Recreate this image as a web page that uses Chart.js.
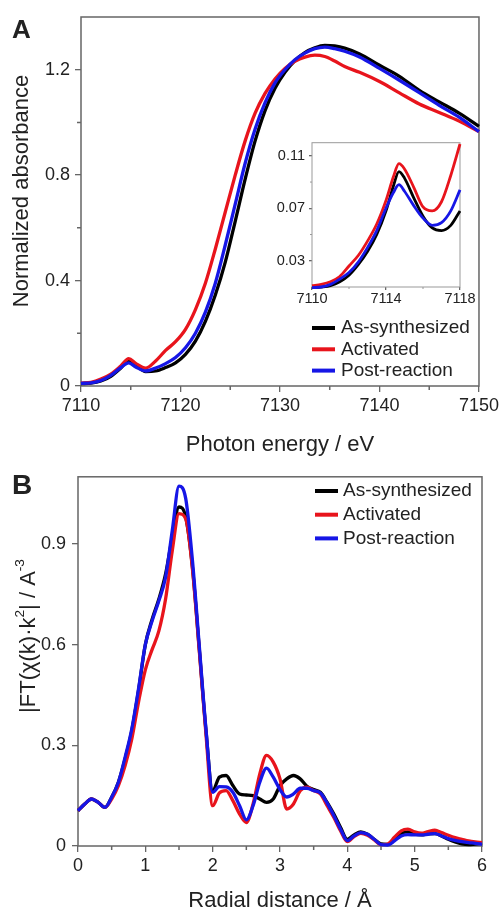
<!DOCTYPE html>
<html>
<head>
<meta charset="utf-8">
<script src="https://cdn.jsdelivr.net/npm/chart.js@4.4.0/dist/chart.umd.min.js"></script>
<style>
  html, body { margin: 0; padding: 0; background: #fff; }
  body { width: 502px; height: 911px; position: relative; overflow: hidden; font-family: "Liberation Sans", Arial, sans-serif; }
  canvas { position: absolute; }
  .panel { position: absolute; z-index: 5; font-weight: bold; color: #222; line-height: 1; }
</style>
</head>
<body>
<canvas id="chartA" width="502" height="460" style="left:0; top:0;"></canvas>
<canvas id="chartInset" width="222" height="185" style="left:255px; top:130px;"></canvas>
<canvas id="chartB" width="502" height="451" style="left:0; top:460px;"></canvas>
<div class="panel" style="left:12px; top:16px; font-size:26px;">A</div>
<div class="panel" style="left:12px; top:471px; font-size:28px;">B</div>
<script>
// ---- panel A : XANES ----
const energyA = [7110, 7111, 7112, 7113, 7114, 7114.8, 7115.5, 7116.5, 7117.5, 7118.5, 7119.5, 7120.5,
  7121.5, 7122.5, 7123.5, 7124.5, 7125.5, 7126.5, 7127.5, 7128.5, 7129.5, 7130.5, 7131.5, 7132.5,
  7133.5, 7134.5, 7135.5, 7136.5, 7138, 7140, 7142, 7144, 7146, 7148, 7150];
const absBlack = [0.009, 0.011, 0.019, 0.037, 0.068, 0.097, 0.078, 0.055, 0.057, 0.07, 0.088, 0.12,
  0.17, 0.245, 0.345, 0.47, 0.625, 0.785, 0.93, 1.045, 1.13, 1.19, 1.235, 1.265,
  1.283, 1.292, 1.29, 1.282, 1.26, 1.217, 1.175, 1.122, 1.078, 1.035, 0.985];
const absRed = [0.011, 0.014, 0.026, 0.045, 0.076, 0.104, 0.086, 0.068, 0.095, 0.135, 0.168, 0.215,
  0.29, 0.39, 0.52, 0.66, 0.8, 0.93, 1.035, 1.11, 1.165, 1.205, 1.232, 1.248,
  1.255, 1.25, 1.233, 1.212, 1.19, 1.155, 1.112, 1.07, 1.038, 1.005, 0.965];
const absBlue = [0.01, 0.012, 0.021, 0.04, 0.07, 0.088, 0.072, 0.057, 0.068, 0.085, 0.108, 0.145,
  0.2, 0.28, 0.39, 0.535, 0.69, 0.845, 0.975, 1.075, 1.15, 1.2, 1.238, 1.263,
  1.28, 1.286, 1.28, 1.27, 1.248, 1.205, 1.16, 1.113, 1.065, 1.02, 0.965];

// inset (pre-edge)
const energyInset = [7110, 7110.5, 7111, 7111.5, 7112, 7112.5, 7113, 7113.5, 7114, 7114.4, 7114.7,
  7115, 7115.5, 7116, 7116.5, 7117, 7117.5, 7118];
const insetBlack = [0.0095, 0.01, 0.011, 0.014, 0.019, 0.027, 0.037, 0.05, 0.068, 0.087, 0.098,
  0.093, 0.078, 0.064, 0.055, 0.053, 0.057, 0.068];
const insetRed = [0.011, 0.012, 0.014, 0.018, 0.026, 0.034, 0.045, 0.058, 0.076, 0.094, 0.104,
  0.1, 0.086, 0.071, 0.068, 0.075, 0.095, 0.119];
const insetBlue = [0.0095, 0.01, 0.012, 0.016, 0.021, 0.029, 0.04, 0.053, 0.07, 0.082, 0.088,
  0.083, 0.072, 0.0625, 0.057, 0.059, 0.068, 0.084];

// ---- panel B : FT-EXAFS ----
const radial = [0, 0.1, 0.2, 0.3, 0.4, 0.5, 0.6, 0.7, 0.8, 0.9, 1, 1.1, 1.2, 1.3, 1.4, 1.5, 1.6, 1.7, 1.8, 1.9,
  2, 2.1, 2.2, 2.3, 2.4, 2.5, 2.6, 2.7, 2.8, 2.9, 3, 3.1, 3.2, 3.3, 3.4, 3.5, 3.6, 3.7, 3.8, 3.9,
  4, 4.1, 4.2, 4.3, 4.4, 4.5, 4.6, 4.7, 4.8, 4.9, 5, 5.1, 5.2, 5.3, 5.4, 5.5, 5.6, 5.7, 5.8, 5.9, 6];
const ftBlack = [0.105, 0.125, 0.14, 0.13, 0.115, 0.145, 0.19, 0.26, 0.345, 0.465,
  0.6, 0.675, 0.735, 0.81, 0.92, 1.01, 0.98, 0.83, 0.59, 0.345,
  0.165, 0.205, 0.21, 0.18, 0.155, 0.152, 0.15, 0.14, 0.13, 0.14,
  0.18, 0.2, 0.21, 0.2, 0.178, 0.168, 0.16, 0.13, 0.095, 0.055,
  0.02, 0.033, 0.042, 0.035, 0.02, 0.006, 0.005, 0.02, 0.037, 0.042,
  0.035, 0.033, 0.036, 0.037, 0.03, 0.02, 0.012, 0.006, 0.004, 0.006, 0.008];
const ftRed = [0.105, 0.125, 0.14, 0.13, 0.115, 0.14, 0.18, 0.24, 0.32, 0.43,
  0.525, 0.585, 0.64, 0.735, 0.88, 0.99, 0.975, 0.825, 0.585, 0.335,
  0.12, 0.158, 0.165, 0.135, 0.095, 0.07, 0.125, 0.215, 0.27, 0.25,
  0.2, 0.11, 0.125, 0.165, 0.175, 0.165, 0.155, 0.12, 0.085, 0.045,
  0.013, 0.028, 0.038, 0.032, 0.018, 0.004, 0.006, 0.026, 0.045, 0.05,
  0.042, 0.038, 0.043, 0.047, 0.04, 0.032, 0.025, 0.02, 0.015, 0.012, 0.01];
const ftBlue = [0.105, 0.125, 0.14, 0.13, 0.115, 0.145, 0.19, 0.265, 0.35, 0.47,
  0.6, 0.67, 0.73, 0.8, 0.94, 1.072, 1.035, 0.85, 0.6, 0.35,
  0.16, 0.177, 0.176, 0.16, 0.12, 0.078, 0.12, 0.19, 0.232, 0.205,
  0.168, 0.146, 0.155, 0.172, 0.172, 0.165, 0.158, 0.128, 0.09, 0.05,
  0.016, 0.03, 0.04, 0.035, 0.02, 0.004, 0.003, 0.015, 0.03, 0.034,
  0.033, 0.033, 0.035, 0.037, 0.03, 0.022, 0.017, 0.013, 0.01, 0.008, 0.005];

const seriesNames = ['As-synthesized', 'Activated', 'Post-reaction'];
const seriesColors = ['#000000', '#e8141c', '#1616e6'];

// tick values
const ticksAx = [7110, 7120, 7130, 7140, 7150];
const minorAx = [7115, 7125, 7135, 7145];
const ticksAy = [0, 0.4, 0.8, 1.2];
const minorAy = [0.2, 0.6, 1.0];
const ticksInsetX = [7110, 7114, 7118];
const minorInsetX = [7112, 7116];
const ticksInsetY = [0.03, 0.07, 0.11];
const minorInsetY = [0.05, 0.09];
const ticksBx = [0, 1, 2, 3, 4, 5, 6];
const minorBx = [0.5, 1.5, 2.5, 3.5, 4.5, 5.5];
const ticksBy = [0, 0.3, 0.6, 0.9];

const FONT = '"Liberation Sans", Arial, sans-serif';
Chart.defaults.font.family = FONT;
Chart.defaults.color = '#222';
Chart.defaults.animation = false;

function lineSets(xs, series, width) {
  return series.map((ys, k) => ({
    label: seriesNames[k],
    data: xs.map((x, i) => ({x: x, y: ys[i]})),
    borderColor: seriesColors[k],
    borderWidth: width,
    pointRadius: 0,
    cubicInterpolationMode: 'monotone',
    clip: false,
    order: 3 - k
  }));
}

function scale(min, max, ticks, size, tickLen, pad, fit, title) {
  return {
    type: 'linear', min: min, max: max,
    afterBuildTicks: s => { s.ticks = ticks.map(v => ({value: v})); },
    afterFit: fit,
    border: {display: false},
    grid: {drawOnChartArea: false, drawTicks: true, tickLength: tickLen, color: '#666', lineWidth: 1.3},
    ticks: {font: {size: size}, color: '#222', padding: pad, maxRotation: 0, autoSkip: false,
      callback: v => String(v)},
    title: title || {display: false}
  };
}

// frame box + minor ticks
const framePlugin = {
  id: 'frame',
  beforeDraw(chart, args, o) {
    if (!o.fill) return;
    const a = chart.chartArea, ctx = chart.ctx;
    ctx.save();
    ctx.fillStyle = o.fill;
    ctx.fillRect(a.left, a.top, a.right - a.left, a.bottom - a.top);
    ctx.restore();
  },
  beforeDatasetsDraw(chart, args, o) {
    const {ctx, chartArea: a, scales} = chart;
    ctx.save();
    ctx.strokeStyle = o.color;
    ctx.lineWidth = o.lineWidth;
    ctx.strokeRect(a.left, a.top, a.right - a.left, a.bottom - a.top);
    ctx.beginPath();
    (o.minorX || []).forEach(v => {
      const p = scales.x.getPixelForValue(v);
      ctx.moveTo(p, a.bottom); ctx.lineTo(p, a.bottom + o.minorLength);
    });
    (o.minorY || []).forEach(v => {
      const p = scales.y.getPixelForValue(v);
      ctx.moveTo(a.left, p); ctx.lineTo(a.left - o.minorLength, p);
    });
    ctx.stroke();
    ctx.restore();
  }
};

// legend drawn inside the plot
const legendPlugin = {
  id: 'inLegend',
  afterDatasetsDraw(chart, args, o) {
    if (!o.size) return;
    const ctx = chart.ctx;
    ctx.save();
    ctx.font = o.size + 'px ' + FONT;
    ctx.textBaseline = 'middle';
    ctx.fillStyle = '#222';
    chart.data.datasets.forEach((ds, i) => {
      const yy = o.top + i * o.rowGap;
      ctx.strokeStyle = ds.borderColor;
      ctx.lineWidth = 4;
      ctx.beginPath();
      ctx.moveTo(o.left, yy); ctx.lineTo(o.left + o.lineLength, yy);
      ctx.stroke();
      ctx.fillText(ds.label, o.left + o.lineLength + o.gap, yy);
    });
    ctx.restore();
  }
};

// rotated y title with superscripts
const yTitlePlugin = {
  id: 'yTitle',
  afterDraw(chart, args, o) {
    if (!o.parts) return;
    const ctx = chart.ctx;
    const parts = o.parts.map(p => ({text: p.text, sup: !!p.sup}));
    ctx.save();
    ctx.translate(o.x, o.y);
    ctx.rotate(-Math.PI / 2);
    ctx.fillStyle = '#222';
    ctx.textBaseline = 'middle';
    let total = 0;
    const widths = parts.map(p => {
      ctx.font = (p.sup ? o.size * 0.62 : o.size) + 'px ' + FONT;
      const w = ctx.measureText(p.text).width;
      total += w;
      return w;
    });
    let cx = -total / 2;
    parts.forEach((p, i) => {
      ctx.font = (p.sup ? o.size * 0.62 : o.size) + 'px ' + FONT;
      ctx.fillText(p.text, cx, p.sup ? -o.size * 0.38 : 0);
      cx += widths[i];
    });
    ctx.restore();
  }
};

const plugins = [framePlugin, legendPlugin, yTitlePlugin];

new Chart(document.getElementById('chartA'), {
  type: 'line',
  data: {datasets: lineSets(energyA, [absBlack, absRed, absBlue], 3.3)},
  options: {
    responsive: false, devicePixelRatio: 1,
    layout: {padding: {left: 0, top: 17, right: 22, bottom: 0}},
    scales: {
      x: scale(7110, 7150, ticksAx, 18, 6, 3, s => { s.height = 74; },
        {display: true, text: 'Photon energy / eV', font: {size: 22}, color: '#222', padding: {top: 0, bottom: 2}}),
      y: scale(0, 1.4, ticksAy, 18, 6, 5, s => { s.width = 81; })
    },
    plugins: {
      legend: {display: false}, tooltip: {enabled: false},
      frame: {color: '#666', lineWidth: 1.5, minorX: minorAx, minorY: minorAy, minorLength: 4},
      inLegend: {left: 312, top: 328, rowGap: 21.3, lineLength: 23, gap: 6, size: 19},
      yTitle: {x: 22, y: 191, size: 22, parts: [{text: 'Normalized absorbance'}]}
    }
  },
  plugins: plugins
});

new Chart(document.getElementById('chartInset'), {
  type: 'line',
  data: {datasets: lineSets(energyInset, [insetBlack, insetRed, insetBlue], 2.8)},
  options: {
    responsive: false, devicePixelRatio: 1,
    layout: {padding: {left: 0, top: 12, right: 17, bottom: 0}},
    scales: {
      x: scale(7110, 7118, ticksInsetX, 14.5, 3, 0, s => { s.height = 28; }),
      y: scale(0.01, 0.12, ticksInsetY, 14.5, 3, 4, s => { s.width = 57; })
    },
    plugins: {
      legend: {display: false}, tooltip: {enabled: false},
      frame: {color: '#999', lineWidth: 1, fill: '#fff', minorX: minorInsetX, minorY: minorInsetY, minorLength: 2}
    }
  },
  plugins: plugins
});

new Chart(document.getElementById('chartB'), {
  type: 'line',
  data: {datasets: lineSets(radial, [ftBlack, ftRed, ftBlue], 3.3)},
  options: {
    responsive: false, devicePixelRatio: 1,
    layout: {padding: {left: 0, top: 14, right: 20, bottom: 0}},
    scales: {
      x: scale(0, 6, ticksBx, 18, 6, 3, s => { s.height = 65; },
        {display: true, text: 'Radial distance / Å', font: {size: 22}, color: '#222', padding: {top: 0, bottom: -3}}),
      y: scale(0, 1.1, ticksBy, 18, 6, 6, s => { s.width = 78; })
    },
    plugins: {
      legend: {display: false}, tooltip: {enabled: false},
      frame: {color: '#666', lineWidth: 1.5, minorX: minorBx, minorLength: 4},
      inLegend: {left: 315, top: 31, rowGap: 23.7, lineLength: 23, gap: 5, size: 19},
      yTitle: {x: 29, y: 176, size: 22, parts: [{text: '|FT(χ(k)·k'}, {text: '2', sup: true}, {text: '| / A'}, {text: '-3', sup: true}]}
    }
  },
  plugins: plugins
});
</script>
</body>
</html>
